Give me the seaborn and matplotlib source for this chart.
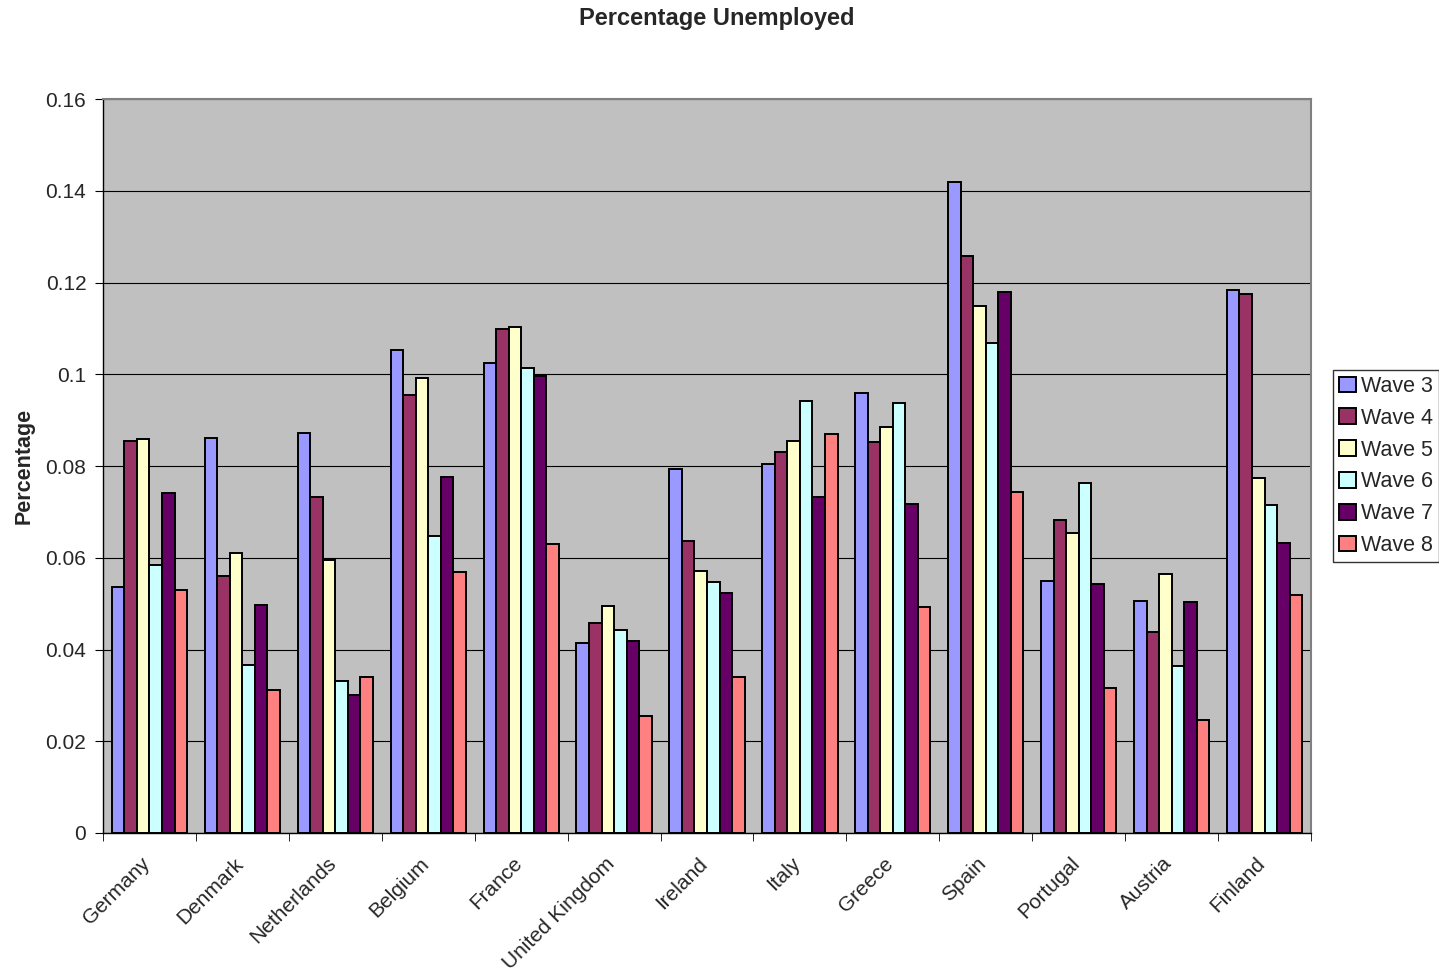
import matplotlib
matplotlib.use("Agg")
import matplotlib.pyplot as plt
import matplotlib.transforms as mtransforms
import seaborn as sns
import pandas as pd
import numpy as np

countries = ["Germany", "Denmark", "Netherlands", "Belgium", "France", "United Kingdom",
             "Ireland", "Italy", "Greece", "Spain", "Portugal", "Austria", "Finland"]
waves = ["Wave 3", "Wave 4", "Wave 5", "Wave 6", "Wave 7", "Wave 8"]

wave3 = [0.0536, 0.0861, 0.0872, 0.1053, 0.1025, 0.0414, 0.0793, 0.0804, 0.0959, 0.1419, 0.0549, 0.0506, 0.1184]
wave4 = [0.0854, 0.0560, 0.0732, 0.0955, 0.1099, 0.0458, 0.0637, 0.0831, 0.0852, 0.1258, 0.0682, 0.0438, 0.1175]
wave5 = [0.0859, 0.0610, 0.0595, 0.0992, 0.1103, 0.0495, 0.0571, 0.0854, 0.0885, 0.1149, 0.0654, 0.0565, 0.0774]
wave6 = [0.0584, 0.0366, 0.0331, 0.0647, 0.1014, 0.0443, 0.0547, 0.0942, 0.0937, 0.1068, 0.0763, 0.0364, 0.0715]
wave7 = [0.0741, 0.0497, 0.0301, 0.0776, 0.0996, 0.0419, 0.0523, 0.0732, 0.0717, 0.1179, 0.0543, 0.0504, 0.0632]
wave8 = [0.0530, 0.0312, 0.0340, 0.0569, 0.0630, 0.0255, 0.0340, 0.0870, 0.0493, 0.0743, 0.0316, 0.0246, 0.0519]

ytick_labels = ["0", "0.02", "0.04", "0.06", "0.08", "0.1", "0.12", "0.14", "0.16"]

series = [wave3, wave4, wave5, wave6, wave7, wave8]
colors = ["#9999FF", "#993366", "#FFFFCC", "#CCFFFF", "#660066", "#FF8080"]

rows = []
for w, vals in zip(waves, series):
    for c, v in zip(countries, vals):
        rows.append({"Country": c, "Wave": w, "Value": v})
df = pd.DataFrame(rows)

sns.set_style("white")
plt.rcParams['font.family'] = ['Liberation Sans', 'DejaVu Sans']

fig = plt.figure(figsize=(14.39, 9.77), dpi=100)
ax = fig.add_axes([103/1439, 1-833/977, (1311-103)/1439, (833-99)/977])
ax.set_facecolor("#C0C0C0")

sns.barplot(data=df, x="Country", y="Value", hue="Wave", hue_order=waves,
            palette=colors, order=countries, width=0.81, edgecolor="black",
            linewidth=1.4, ax=ax, legend=True, saturation=1)

ax.set_ylim(0, 0.16)
ax.set_xlim(-0.5, len(countries) - 0.5)
yt = np.linspace(0, 0.16, 9)
ax.set_yticks(yt)
ax.set_yticklabels(ytick_labels, fontsize=15)
ax.yaxis.grid(True, color="black", linewidth=0.8)
ax.set_axisbelow(True)

ax.set_xticks(range(len(countries)))
ax.set_xticklabels(countries, rotation=45, ha="right", rotation_mode="anchor", fontsize=15)
ax.tick_params(axis="x", which="major", length=0, pad=15)
offset = mtransforms.ScaledTranslation(-0.09, 0, fig.dpi_scale_trans)
for lbl in ax.get_xticklabels():
    lbl.set_transform(lbl.get_transform() + offset)
ax.set_xticks(np.arange(-0.5, len(countries), 1), minor=True)
ax.tick_params(axis="x", which="minor", length=6, direction="out", color="black", bottom=True)
ax.tick_params(axis="y", which="major", length=6, direction="out", color="black", left=True, pad=6)

for s in ["left", "bottom"]:
    ax.spines[s].set_color("black")
    ax.spines[s].set_linewidth(1)
for s in ["top", "right"]:
    ax.spines[s].set_color("#808080")
    ax.spines[s].set_linewidth(1.5)

ax.set_xlabel("")
ax.set_ylabel("Percentage", fontsize=15.5, fontweight="bold", labelpad=8)
fig.text(717/1439, 1-18/977, "Percentage Unemployed", ha="center", va="center",
         fontsize=17, fontweight="bold")

handles, labels = ax.get_legend_handles_labels()
leg = ax.legend(handles, labels, loc="center left", bbox_to_anchor=(1333/1439, 1-466/977),
                bbox_transform=fig.transFigure, frameon=True, fancybox=False,
                fontsize=15.5, handlelength=0.75, handleheight=0.75, handletextpad=0.25,
                labelspacing=0.5, borderpad=0.3, borderaxespad=0)
leg.get_frame().set_edgecolor("black")
leg.get_frame().set_linewidth(1)

fig.savefig("out.png", dpi=100)
